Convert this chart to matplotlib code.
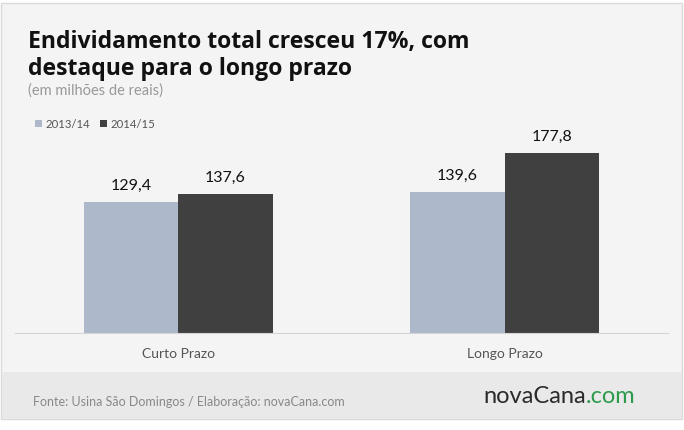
import matplotlib.pyplot as plt
import matplotlib.patches as patches
import numpy as np

# data
categories = ["Curto Prazo", "Longo Prazo"]
series_names = ["2013/14", "2014/15"]
values_1314 = [129.4, 139.6]
values_1415 = [137.6, 177.8]

W, H = 684, 431
light = '#adb8ca'
dark = '#404040'

plt.rcParams['font.family'] = ['Lato', 'DejaVu Sans']

fig = plt.figure(figsize=(W / 100, H / 100), dpi=100, facecolor='white')

def fx(px):
    return px / W

def fy(py):
    return 1 - py / H

# card background and footer band (below the axes)
fig.patches.append(patches.Rectangle((fx(1), fy(420)), fx(681), 416 / H, transform=fig.transFigure,
                                     facecolor='#f4f4f4', edgecolor='#dadada', linewidth=1, zorder=-2))
fig.patches.append(patches.Rectangle((fx(1.5), fy(420)), fx(680), 47 / H, transform=fig.transFigure,
                                     facecolor='#e9e9e9', edgecolor='none', zorder=-1))

# axes
ax = fig.add_axes([fx(15), fy(334), fx(653), 202 / H])
ax.set_facecolor('none')
x = np.arange(len(categories))
bw = 0.29
b1 = ax.bar(x - bw / 2, values_1314, bw, color=light, label=series_names[0])
b2 = ax.bar(x + bw / 2, values_1415, bw, color=dark, label=series_names[1])
ax.set_xlim(-0.5, 1.5)
ax.set_ylim(0, 200)
for s in ['top', 'right', 'left']:
    ax.spines[s].set_visible(False)
ax.spines['bottom'].set_color('#d4d4d4')
ax.set_yticks([])
ax.set_xticks(x)
ax.set_xticklabels(categories, fontsize=10, color='#555555')
ax.tick_params(axis='x', length=0, pad=10)

for bars in (b1, b2):
    for rect in bars:
        v = rect.get_height()
        ax.annotate(f"{v:.1f}".replace('.', ','), (rect.get_x() + rect.get_width() / 2, v),
                    xytext=(0, 7.5), textcoords='offset points', ha='center', va='bottom',
                    fontsize=11.5, color='#111111')

# titles
title_font = ['Open Sans', 'DejaVu Sans']
fig.text(fx(28), fy(48), "Endividamento total cresceu 17%, com", fontsize=16.6,
         fontweight='bold', color='#111111', va='baseline', family=title_font)
fig.text(fx(28), fy(75), "destaque para o longo prazo", fontsize=16.6,
         fontweight='bold', color='#111111', va='baseline', family=title_font)
fig.text(fx(28), fy(95), "(em milhões de reais)", fontsize=10.5, color='#999999', va='baseline')

# legend
fig.legend(handles=[b1, b2], labels=series_names, loc='center left',
           bbox_to_anchor=(fx(25), fy(125)), ncol=2, frameon=False, fontsize=8.2,
           handlelength=0.6, handleheight=0.6, handletextpad=0.3, columnspacing=0.9,
           labelcolor='#555555')

# footer
fig.text(fx(33), fy(406), "Fonte: Usina São Domingos / Elaboração: novaCana.com",
         fontsize=9, color='#888888', va='baseline')
logo = fig.text(fx(483), fy(403), "novaCana", fontsize=17, fontweight='normal',
                color='#2a2a2a', va='baseline')
ax.annotate(".com", xy=(1, 0), xycoords=logo, ha='left', va='bottom',
            fontsize=17, fontweight='normal', color='#2e9a4c', annotation_clip=False)

fig.savefig('out.png', dpi=100, facecolor='white')
